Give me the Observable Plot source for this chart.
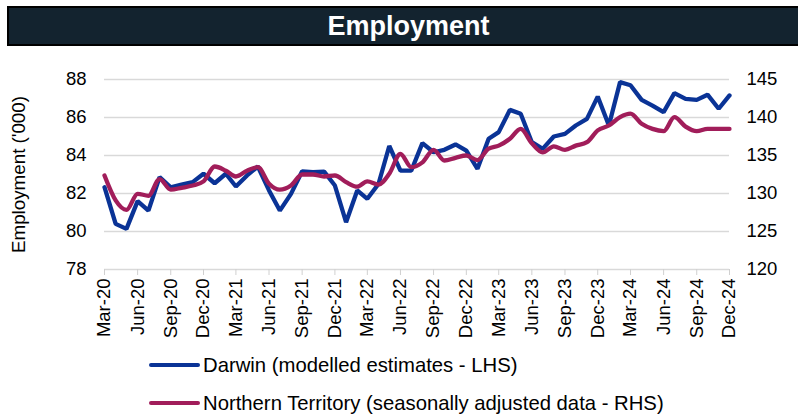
<!DOCTYPE html>
<html><head><meta charset="utf-8">
<script src="https://cdn.jsdelivr.net/npm/d3@7"></script>
<script src="https://cdn.jsdelivr.net/npm/@observablehq/plot@0.6"></script>
<style>
body{margin:0;background:#fff;font-family:"Liberation Sans",Arial,sans-serif;}
#wrap{position:relative;width:798px;height:414px;overflow:hidden;}
#title{position:absolute;left:7px;top:6px;width:800px;height:36px;background:#13232f;border:2px solid #000;color:#fff;font-weight:bold;font-size:27px;line-height:37px;text-align:center;box-sizing:content-box;}
#title span{position:relative;margin-left:-1px}
#chart{position:absolute;left:0;top:50px;}
.leg{position:absolute;left:149px;font-size:20.3px;color:#000;display:flex;align-items:center;height:24px;}
.leg i{display:inline-block;width:51px;height:4px;margin-right:3px;border-radius:2px;}
</style></head>
<body><div id="wrap">
<div id="title"><span>Employment</span></div>
<div id="chart"></div>
<div class="leg" style="top:353px"><i style="background:#0a3396"></i>Darwin (modelled estimates - LHS)</div>
<div class="leg" style="top:391px"><i style="background:#a11d5a"></i>Northern Territory (seasonally adjusted data - RHS)</div>
</div>
<script>
const startMonth = "2020-03";
const yTitle = "Employment ('000)";
const tickLabels = ["Mar-20","Jun-20","Sep-20","Dec-20","Mar-21","Jun-21","Sep-21","Dec-21","Mar-22","Jun-22","Sep-22","Dec-22","Mar-23","Jun-23","Sep-23","Dec-23","Mar-24","Jun-24","Sep-24","Dec-24"];
const darwin = [82.33,80.4,80.14,81.6,81.1,82.86,82.33,82.47,82.6,83.04,82.54,83.04,82.37,82.95,83.42,82.16,81.1,81.98,83.17,83.12,
  83.15,82.42,80.49,82.16,81.72,82.5,84.5,83.2,83.2,84.65,84.17,84.3,84.58,84.26,83.3,84.88,85.23,86.4,86.2,84.7,
  84.35,85.0,85.14,85.58,85.93,87.1,85.58,87.86,87.7,86.93,86.63,86.28,87.28,86.98,86.93,87.2,86.46,87.16];
const nt = [132.37,129.1,127.85,129.96,129.7,131.9,130.5,130.75,131.05,131.6,133.55,133.0,132.24,133.0,133.46,131.28,130.5,131.05,132.5,132.5,
  132.24,132.37,131.5,130.9,131.6,131.18,132.6,135.2,133.46,134.1,135.75,134.34,134.7,135.0,134.4,135.9,136.3,137.2,138.5,136.6,
  135.4,136.2,135.75,136.3,136.75,138.3,138.95,140.04,140.5,139.17,138.5,138.2,140.04,138.8,138.2,138.5,138.5,138.5];
const leftTicks = [78,80,82,84,86,88];
const rightTicks = [120,125,130,135,140,145];

const start = d3.utcParse("%Y-%m")(startMonth);
const dates = darwin.map((_, i) => d3.utcMonth.offset(start, i));
const toLeft = v => 78 + (v - 120) * 10 / 25;
const dData = darwin.map((v, i) => ({date: dates[i], v}));
const nData = nt.map((v, i) => ({date: dates[i], v: toLeft(v)}));
const tickDates = tickLabels.map(s => d3.utcParse("%b-%y")(s));

const chart = Plot.plot({
  width: 798, height: 300,
  marginLeft: 104, marginRight: 69, marginTop: 29, marginBottom: 81,
  style: {fontFamily: '"Liberation Sans", Arial, sans-serif', fontSize: "18.5px", color: "#000", background: "transparent"},
  x: {type: "utc", domain: [dates[0], dates[dates.length - 1]]},
  y: {domain: [78, 88]},
  marks: [
    Plot.ruleY(leftTicks.slice(1), {stroke: "#d9d9d9", strokeWidth: 1.6}),
    Plot.ruleY([78], {stroke: "#d9d9d9", strokeWidth: 1.6}),
    Plot.axisX({ticks: tickDates, tickFormat: d => tickLabels[tickDates.findIndex(t => +t === +d)], tickRotate: -90, tickSize: 6, stroke: "#d0d0d0", tickPadding: 3, label: null, fontSize: 18.5}),
    Plot.axisY({ticks: leftTicks, tickSize: 0, tickPadding: 18, label: null, fontSize: 18.5}),
    Plot.axisY({anchor: "right", ticks: leftTicks, tickSize: 0, tickPadding: 17, tickFormat: (d, i) => rightTicks[i], label: null, fontSize: 18.5}),
    Plot.text([yTitle], {frameAnchor: "left", rotate: -90, dx: -86, textAnchor: "middle", lineAnchor: "middle", fontSize: 18.8, fill: "#000"}),
    Plot.line(dData, {x: "date", y: "v", stroke: "#0a3396", strokeWidth: 4.3, strokeLinejoin: "miter", curve: "linear"}),
    Plot.line(nData, {x: "date", y: "v", stroke: "#a11d5a", strokeWidth: 4.3, curve: "monotone-x"})
  ]
});
document.getElementById("chart").appendChild(chart);
</script></body></html>
